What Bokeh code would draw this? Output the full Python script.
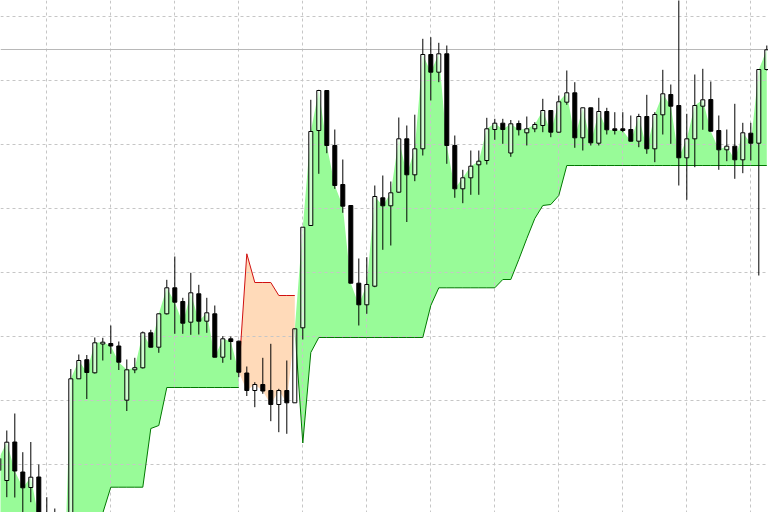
from bokeh.plotting import figure
from bokeh.models import Range1d
from bokeh.embed import file_html
from bokeh.resources import INLINE

# ---- data (price in arbitrary index points) ----
bar_index = list(range(-1, 96))
open_ = [530, 520, 558.5, 528.5, 513, 523.5, 480, 470, 430, 380, 621.7, 640.8, 627.7, 656.5, 657, 654.5,
         600.3, 630.7, 632.7, 667.7, 653.3, 686.7, 712.7, 699, 678.3, 706.7, 679.3, 686.7, 643.3, 661.7, 659.3,
         627.5, 610, 616, 610, 596, 610, 597.7, 672.7, 775, 870, 910, 855, 816, 795, 717.3,
         695.7, 714.3, 802.7, 794.7, 808.3, 861.7, 825.7, 851.7, 946, 928.3, 946.7, 855, 811.7, 822.7,
         835.7, 840, 871, 877.3, 847.5, 877, 867.7, 871.7, 875, 890, 868.3, 898.3, 907.7, 862.7, 892.7,
         857.3, 889, 871.7, 871.7, 871, 859.3, 884, 851.7, 885.7, 906, 895, 842.7, 861.7, 894.3, 901,
         870, 850.7, 854.3, 840.7, 867.3, 857.3, 931]
high = [550, 570, 587, 548.3, 558.5, 536, 503.3, 492, 480, 631.5, 646, 645.5, 663, 662.7, 675, 659,
        641, 642.7, 669, 670.7, 687, 720.7, 744, 702.7, 727.7, 715.7, 702.7, 695, 664.3, 664, 660,
        634, 618.3, 642.7, 656.7, 611.7, 640, 672, 773.5, 900.7, 910.7, 910.5, 871, 841, 795, 742,
        743.3, 815, 825, 819, 883, 875, 885.8, 961.7, 963.3, 957.7, 955, 865, 830.7, 850,
        850, 882.7, 881.7, 881.7, 880.5, 880, 884, 878.3, 901.7, 890.5, 905, 930, 918.3, 893, 893,
        902.7, 892.7, 888.3, 888.3, 885, 886.7, 905.7, 888.3, 930.7, 916, 1020, 886.7, 926, 931.7, 919,
        885, 871, 896.7, 877.7, 877.7, 931, 955]
low = [520, 503.3, 503, 480, 498.3, 470, 450, 420, 370, 375, 621.7, 601.5, 627, 640, 646.7, 630.5,
       589.5, 627.3, 632, 653, 647.7, 686, 666.7, 666.7, 665.7, 666, 667.7, 643, 637.7, 640.7, 623.3,
       604.5, 593.3, 606.7, 579.3, 568.3, 566.7, 597.5, 661, 774.5, 826.7, 847.3, 811.7, 787.7, 717, 675,
       686.7, 713.3, 750.7, 755, 807.7, 778.5, 819.3, 845, 900, 918.3, 836.7, 802.7, 797.3, 805.7,
       805.7, 836, 860.7, 856.7, 843.7, 865, 855, 868.3, 868.3, 863.3, 868, 895.7, 852.7, 850, 855,
       855, 866, 866, 868.3, 859, 853.3, 846.7, 838.3, 866, 856.7, 815, 800.7, 833.3, 870.7, 869,
       830.7, 839.3, 821.7, 827.3, 840, 725, 930]
close = [542, 558.3, 529.5, 512.7, 523.3, 482, 460, 430, 380, 621.7, 640, 628, 657.7, 658.3, 654.5, 638.3,
         630.7, 632.8, 667.7, 653.3, 686.7, 712.7, 698.3, 677.3, 707.7, 679.3, 687.7, 643.3, 661.7, 659, 628.3,
         610, 616, 609.5, 596, 610, 597.7, 671.7, 773.3, 869, 910, 855, 815, 794.3, 717.3, 695.7,
         716, 804, 794.7, 807.7, 861.7, 825.7, 851.7, 946, 928.3, 946.7, 855, 811.7, 822.7, 834.3,
         839.3, 871.7, 877.3, 871, 876.7, 870.8, 871.7, 876, 890, 868.3, 898.7, 907.7, 862.7, 892.7, 857.7,
         889, 870.7, 870, 870, 859.3, 884, 851.7, 886, 906.7, 894.3, 842.7, 861.7, 895, 900.7, 869.3,
         850.7, 854.3, 840.7, 867.7, 857.3, 931, 950.7]
trail_stop = [320] * 13 + [487.5] + [513.3] * 5 + [572, 575] + [613] * 10 + [746.7, 718, 718, 718, 705, 705, 705,
              557.5, 648] + [663] * 14 + [695] + [712.7] * 8 + [721, 721, 741, 762, 782, 795, 796, 805] + [835] * 26

grid_x = [5 + 8 * j for j in range(12)]
grid_y = [536 + 64 * j for j in range(8)]

# ---- colours ----
UP_FILL = "#98FB98"
DN_FILL = "#FFDAB9"
UP_LINE = "#007800"
DN_LINE = "#D01010"
GRID = "#c6c6c6"

p = figure(width=768, height=512, output_backend="svg", toolbar_location=None,
           x_axis_location=None, y_axis_location=None, min_border=0,
           x_range=Range1d(-0.7875, 95.2125), y_range=Range1d(488, 1000),
           outline_line_color=None, background_fill_color="white", border_fill_color="white")
p.grid.visible = False

n = len(close)
up = [s < c for s, c in zip(trail_stop, close)]
runs = []
start = 0
for i in range(1, n + 1):
    if i == n or up[i] != up[start]:
        runs.append((start, i - 1))
        start = i

segments = []
for a, b in runs:
    xs = bar_index[a:b + 1]
    y1 = close[a:b + 1]
    y2 = trail_stop[a:b + 1]
    if a > 0:
        xs = [bar_index[a - 1]] + xs
        y1 = [close[a - 1]] + y1
        y2 = [close[a - 1]] + y2
    segments.append((xs, y1, y2, up[a]))
    p.varea(x=xs, y1=y1, y2=y2, fill_color=UP_FILL if up[a] else DN_FILL)

# grid above the fills
p.vspan(x=grid_x, line_color=GRID, line_dash="3 3", line_width=1)
p.hspan(y=grid_y, line_color=GRID, line_dash="3 3", line_width=1)

for xs, y1, y2, is_up in segments:
    p.line(xs, y2, line_color=UP_LINE if is_up else DN_LINE, line_width=1)

# bid line at last close
p.hspan(y=[close[-1]], line_color="#b8b8b8", line_width=1)

# candles
tops = [max(o, c) for o, c in zip(open_, close)]
bots = [min(o, c) for o, c in zip(open_, close)]
p.segment(x0=bar_index, y0=high, x1=bar_index, y1=tops, line_color="black", line_width=1)
p.segment(x0=bar_index, y0=low, x1=bar_index, y1=bots, line_color="black", line_width=1)

bx_up = [x for x, o, c in zip(bar_index, open_, close) if c >= o]
bt_up = [t for t, o, c in zip(tops, open_, close) if c >= o]
bb_up = [b for b, o, c in zip(bots, open_, close) if c >= o]
bx_dn = [x for x, o, c in zip(bar_index, open_, close) if c < o]
bt_dn = [t for t, o, c in zip(tops, open_, close) if c < o]
bb_dn = [b for b, o, c in zip(bots, open_, close) if c < o]

p.vbar(x=bx_up, top=bt_up, bottom=bb_up, width=0.5, fill_color="white", fill_alpha=0.55,
       line_color="black", line_width=1)
p.vbar(x=bx_dn, top=bt_dn, bottom=bb_dn, width=0.5, fill_color="black",
       line_color="black", line_width=1)

open("out.html", "w").write(file_html(p, INLINE))
